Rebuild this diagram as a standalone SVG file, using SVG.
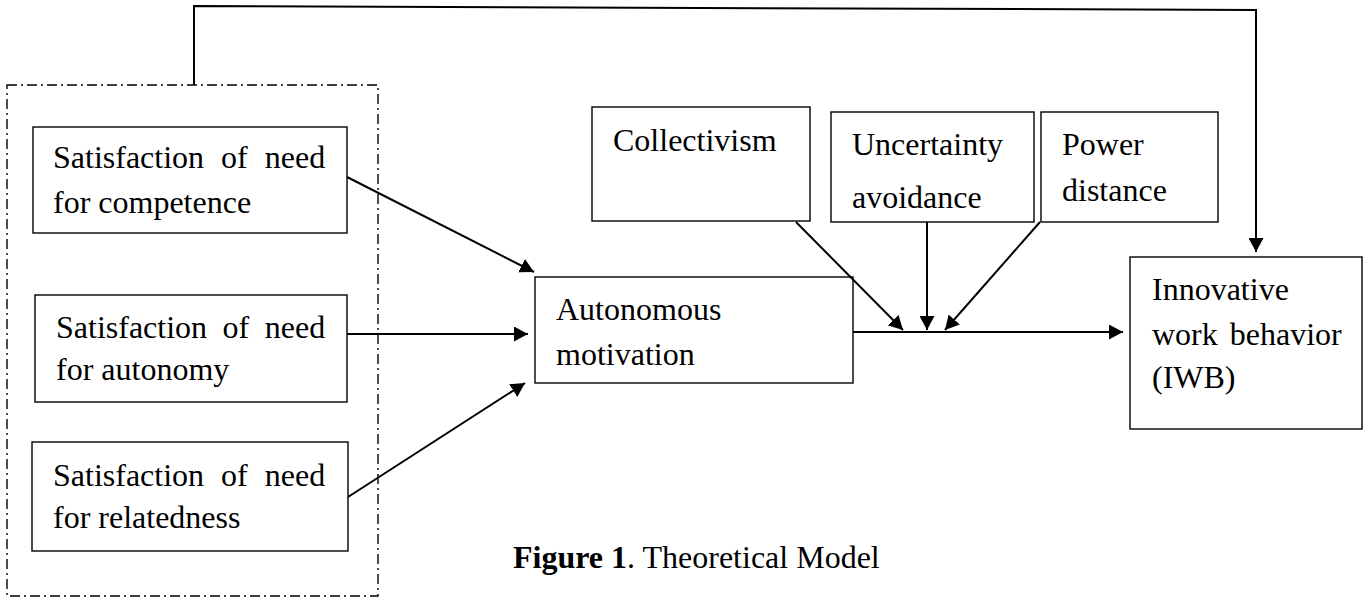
<svg xmlns="http://www.w3.org/2000/svg" width="1367" height="598" viewBox="0 0 1367 598">
<style>
.box{fill:#fff;stroke:#000;stroke-width:1.4}
.t{font-family:"Liberation Serif","Times New Roman",serif;font-size:32px;fill:#000}
.c{fill:none;stroke:#000;stroke-width:2}
.dash{fill:none;stroke:#000;stroke-width:1.4;stroke-dasharray:10 4 2 4}
</style>
<defs>
<marker id="ah" markerUnits="userSpaceOnUse" markerWidth="15" markerHeight="15" refX="14" refY="7.5" orient="auto">
<path d="M0,0 L14,7.5 L0,15 z" fill="#000"/>
</marker>
</defs>
<rect id="group-frame" class="dash" x="7" y="85" width="371" height="511"/>
<g id="competence">
<rect class="box" x="33" y="127" width="314" height="106"/>
<text class="t" x="53" y="168" word-spacing="9">Satisfaction of need</text>
<text class="t" x="53" y="213">for competence</text>
</g>
<g id="autonomy">
<rect class="box" x="35" y="295" width="312" height="107"/>
<text class="t" x="56" y="338" word-spacing="7.5">Satisfaction of need</text>
<text class="t" x="56" y="380">for autonomy</text>
</g>
<g id="relatedness">
<rect class="box" x="32" y="442" width="316" height="109"/>
<text class="t" x="53" y="486" word-spacing="9">Satisfaction of need</text>
<text class="t" x="53" y="528">for relatedness</text>
</g>
<g id="autonomous-motivation">
<rect class="box" x="535" y="277" width="318" height="106"/>
<text class="t" x="556" y="320">Autonomous</text>
<text class="t" x="556" y="365">motivation</text>
</g>
<g id="collectivism">
<rect class="box" x="592" y="107" width="218" height="114"/>
<text class="t" x="613" y="151">Collectivism</text>
</g>
<g id="uncertainty">
<rect class="box" x="831" y="112" width="203" height="110"/>
<text class="t" x="852" y="155">Uncertainty</text>
<text class="t" x="852" y="208">avoidance</text>
</g>
<g id="power">
<rect class="box" x="1041" y="112" width="177" height="110"/>
<text class="t" x="1062" y="155">Power</text>
<text class="t" x="1062" y="201">distance</text>
</g>
<g id="iwb">
<rect class="box" x="1130" y="257" width="232" height="172"/>
<text class="t" x="1152" y="300">Innovative</text>
<text class="t" x="1152" y="345" word-spacing="4">work behavior</text>
<text class="t" x="1152" y="388">(IWB)</text>
</g>
<g id="connectors">
<polyline class="c" points="194,85 194,6 1256,10 1256,252" marker-end="url(#ah)"/>
<line class="c" x1="347" y1="177" x2="534" y2="272" marker-end="url(#ah)"/>
<line class="c" x1="347" y1="334" x2="528" y2="334" marker-end="url(#ah)"/>
<line class="c" x1="348" y1="497" x2="525" y2="383" marker-end="url(#ah)"/>
<line class="c" x1="853" y1="332" x2="1123" y2="332" marker-end="url(#ah)"/>
<line class="c" x1="796" y1="222" x2="903" y2="330" marker-end="url(#ah)"/>
<line class="c" x1="927" y1="222" x2="927" y2="330" marker-end="url(#ah)"/>
<line class="c" x1="1040" y1="222" x2="945" y2="330" marker-end="url(#ah)"/>
</g>
<text id="caption" class="t" x="513" y="568"><tspan font-weight="bold">Figure 1</tspan>. Theoretical Model</text>
</svg>
